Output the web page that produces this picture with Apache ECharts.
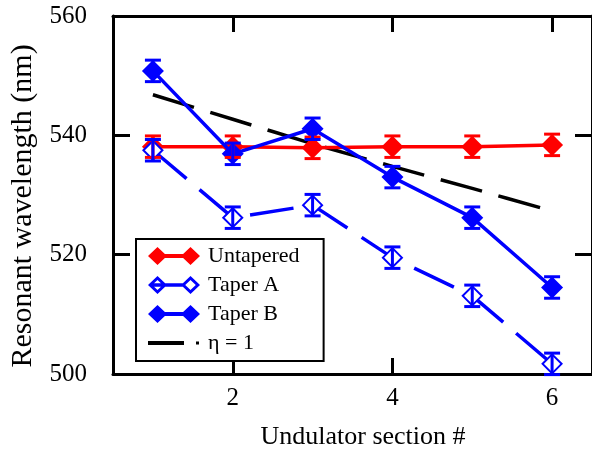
<!DOCTYPE html>
<html><head><meta charset="utf-8">
<script src="https://cdn.jsdelivr.net/npm/echarts@6/dist/echarts.min.js"></script>
<style>html,body{margin:0;padding:0;background:#fff}#c{width:592px;height:455px}</style>
</head><body><div id="c"></div>
<script>
// ---- data ----
const sections = [1, 2, 3, 4, 5, 6];
const untapered = [538.1, 538.1, 537.9, 538.1, 538.1, 538.4];
const taperA    = [537.5, 526.2, 528.3, 519.5, 513.1, 501.7];
const taperB    = [550.8, 536.9, 541.1, 533.0, 526.2, 514.5];
const eta1      = [546.8, 542.7, 538.6, 534.8, 531.1, 527.3];
const errUntapered = [1.8, 1.8, 1.8, 1.8, 1.8, 1.8];
const errTaperA    = [1.8, 1.8, 1.8, 1.8, 1.8, 1.8];
const errTaperB    = [1.8, 1.8, 1.8, 1.8, 1.8, 1.8];
const xTicks = [2, 4, 6];
const yMin = 500, yMax = 560, yStep = 20;
const xMin = 0.5, xMax = 6.5;

const FONT = 'Liberation Serif';
const RED = '#ff0000', BLUE = '#0000ff', BLACK = '#000000';

const ICON_FILLED = 'path://M0 9L9.5 0L19 9L9.5 18Z M33 9L42.5 0L52 9L42.5 18Z M17 7L35 7L35 11L17 11Z';
const ICON_OPEN = 'path://M0 9L9.5 0L19 9L9.5 18Z M4.2 9L9.5 14L14.8 9L9.5 4Z ' +
  'M33 9L42.5 0L52 9L42.5 18Z M37.2 9L42.5 14L47.8 9L42.5 4Z M4 7.3L37 7.3L37 10.7L4 10.7Z';
const ICON_ETA = 'path://M0 0L0.01 0L0 0.01Z M52 18L51.99 18L52 17.99Z ' +
  'M0 7L36 7L36 11L0 11Z M48 7.5L51 7.5L51 10.5L48 10.5Z';

function pairs(vals) { return sections.map((x, i) => [x, vals[i]]); }

function errSeries(name, vals, errs, color) {
  return {
    type: 'custom', name: name, z: 5, silent: true,
    data: sections.map((x, i) => [x, vals[i], errs[i]]),
    encode: { x: 0, y: 1 },
    renderItem: function (params, api) {
      const x = api.value(0), y = api.value(1), e = api.value(2);
      const t = api.coord([x, y + e]), b = api.coord([x, y - e]);
      const hw = 8;
      const st = { stroke: color, lineWidth: 3 };
      return { type: 'group', children: [
        { type: 'line', shape: { x1: t[0], y1: t[1], x2: b[0], y2: b[1] }, style: st },
        { type: 'line', shape: { x1: t[0] - hw, y1: t[1], x2: t[0] + hw, y2: t[1] }, style: st },
        { type: 'line', shape: { x1: b[0] - hw, y1: b[1], x2: b[0] + hw, y2: b[1] }, style: st }
      ]};
    }
  };
}

const axisLineStyle = { show: true, onZero: false, lineStyle: { color: BLACK, width: 3 } };
const tickStyle = { color: BLACK, width: 3 };

const option = {
  animation: false,
  backgroundColor: '#fff',
  grid: { left: 112, right: -2, top: 16, bottom: 78, containLabel: false },
  xAxis: [{
    type: 'value', min: xMin, max: xMax, position: 'bottom',
    axisLine: axisLineStyle,
    axisTick: { show: true, inside: true, length: 16, lineStyle: tickStyle, customValues: xTicks },
    axisLabel: { customValues: xTicks, fontFamily: FONT, fontSize: 25, color: BLACK, margin: 12 },
    splitLine: { show: false },
    name: 'Undulator section #', nameLocation: 'middle', nameGap: 50,
    nameTextStyle: { fontFamily: FONT, fontSize: 26, color: BLACK, padding: [0, 0, 0, 21] }
  }, {
    type: 'value', min: xMin, max: xMax, position: 'top',
    axisLine: axisLineStyle,
    axisTick: { show: true, inside: true, length: 16, lineStyle: tickStyle, customValues: xTicks },
    axisLabel: { show: false },
    splitLine: { show: false }
  }],
  yAxis: [{
    type: 'value', min: yMin, max: yMax, interval: yStep, position: 'left',
    axisLine: axisLineStyle,
    axisTick: { show: true, inside: true, length: 17, lineStyle: tickStyle },
    axisLabel: { fontFamily: FONT, fontSize: 25, color: BLACK, margin: 26 },
    splitLine: { show: false },
    name: 'Resonant wavelength (nm)', nameLocation: 'middle', nameGap: 75,
    nameTextStyle: { fontFamily: FONT, fontSize: 30, color: BLACK, padding: [0, 22, 0, 0] }
  }, {
    type: 'value', min: yMin, max: yMax, interval: yStep, position: 'right',
    axisLine: axisLineStyle,
    axisTick: { show: true, inside: true, length: 17, lineStyle: tickStyle },
    axisLabel: { show: false },
    splitLine: { show: false }
  }],
  legend: {
    orient: 'vertical', left: 136, top: 239,
    padding: [6, 24, 7, 12], itemGap: 7, itemWidth: 52, itemHeight: 18,
    backgroundColor: '#fff', borderColor: BLACK, borderWidth: 2, borderRadius: 0,
    selectedMode: false,
    textStyle: { fontFamily: FONT, fontSize: 22, color: BLACK, padding: [0, 0, 0, 3] },
    data: [
      { name: 'Untapered', icon: ICON_FILLED, itemStyle: { color: RED, borderWidth: 0 } },
      { name: 'Taper A', icon: ICON_OPEN, itemStyle: { color: BLUE, borderWidth: 0 } },
      { name: 'Taper B', icon: ICON_FILLED, itemStyle: { color: BLUE, borderWidth: 0 } },
      { name: 'η = 1', icon: ICON_ETA, itemStyle: { color: BLACK, borderWidth: 0 } }
    ]
  },
  series: [
    {
      name: 'η = 1', type: 'line', data: pairs(eta1), smooth: 0.3, symbol: 'none', z: 1,
      lineStyle: { color: BLACK, width: 3.5, type: [43, 17] }, itemStyle: { color: BLACK }
    },
    {
      name: 'Untapered', type: 'line', data: pairs(untapered), z: 2,
      symbol: 'diamond', symbolSize: [22, 22],
      lineStyle: { color: RED, width: 3.5 }, itemStyle: { color: RED }
    },
    {
      name: 'Taper A', type: 'line', data: pairs(taperA), z: 3,
      symbol: 'emptyDiamond', symbolSize: [19, 19],
      lineStyle: { color: BLUE, width: 3.5, type: [44, 17] },
      itemStyle: { color: BLUE, borderColor: BLUE, borderWidth: 3 }
    },
    {
      name: 'Taper B', type: 'line', data: pairs(taperB), z: 3,
      symbol: 'diamond', symbolSize: [22, 22],
      lineStyle: { color: BLUE, width: 3.5 }, itemStyle: { color: BLUE }
    },
    errSeries('Untapered err', untapered, errUntapered, RED),
    errSeries('Taper A err', taperA, errTaperA, BLUE),
    errSeries('Taper B err', taperB, errTaperB, BLUE)
  ]
};

const chart = echarts.init(document.getElementById('c'), null, { renderer: 'canvas' });
chart.setOption(option);
</script>
</body></html>
